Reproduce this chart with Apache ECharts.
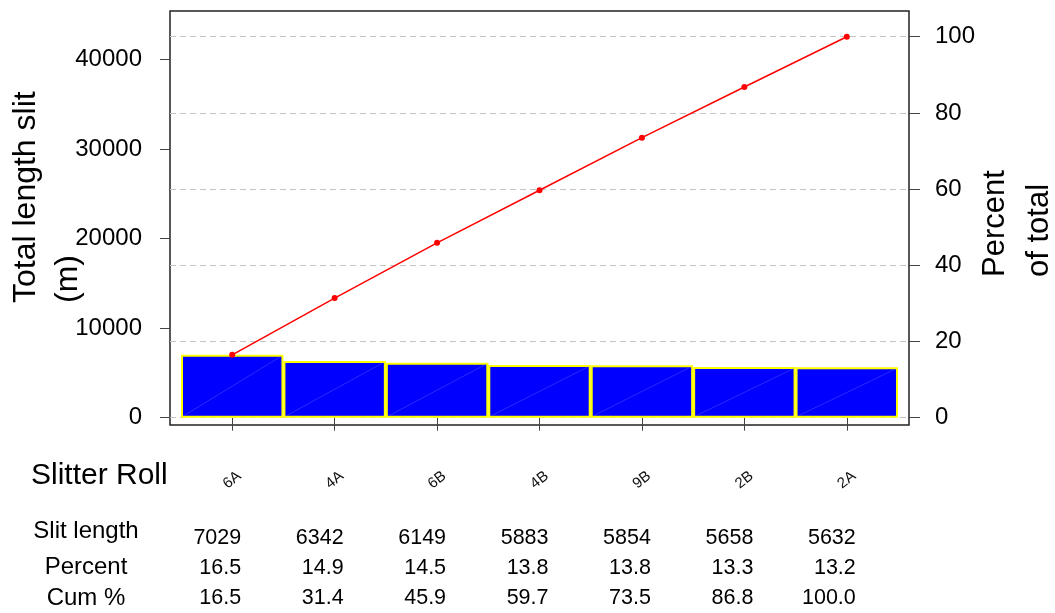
<!DOCTYPE html>
<html>
<head>
<meta charset="utf-8">
<script src="https://cdn.jsdelivr.net/npm/echarts@6/dist/echarts.min.js"></script>
<style>
html,body{margin:0;padding:0;background:#fff;}
#main{width:1055px;height:613px;}
</style>
</head>
<body>
<div id="main"></div>
<script>
// ---- data ----
var categories = ['6A', '4A', '6B', '4B', '9B', '2B', '2A'];
var slitLength = [7029, 6342, 6149, 5883, 5854, 5658, 5632];
var percent = [16.5, 14.9, 14.5, 13.8, 13.8, 13.3, 13.2];
var cumPercent = [16.5, 31.4, 45.9, 59.7, 73.5, 86.8, 100.0];
var leftTicks = [0, 10000, 20000, 30000, 40000];
var rightTicks = [0, 20, 40, 60, 80, 100];

var total = slitLength.reduce(function (a, b) { return a + b; }, 0);
var rightMin = -1.92, rightMax = 106.75;
var leftMin = total * rightMin / 100, leftMax = total * rightMax / 100;

var FONT = '"Liberation Sans", Arial, sans-serif';
var chart = echarts.init(document.getElementById('main'));

function tableAxis(arr, margin, fmt) {
  return {
    type: 'category', gridIndex: 2, position: 'bottom', data: categories,
    axisLine: {show: false}, axisTick: {show: false},
    axisLabel: {
      interval: 0, margin: margin, align: 'right', verticalAlign: 'middle',
      fontSize: 21.5, fontFamily: FONT, color: '#000',
      formatter: function (v, i) { return fmt(arr[i]); }
    }
  };
}

var option = {
  animation: false,
  backgroundColor: '#fff',
  textStyle: {fontFamily: FONT},
  grid: [
    {left: 170, right: 146, top: 11, bottom: 188, show: true, borderColor: '#222', borderWidth: 1.5, backgroundColor: 'transparent'},
    {left: 181, right: 157, top: 11, bottom: 188},
    {left: 190, right: 148, top: 11, bottom: 188}
  ],
  xAxis: [
    {type: 'value', gridIndex: 0, min: 0, max: 1, show: false},
    {
      type: 'category', gridIndex: 1, data: categories, position: 'bottom',
      axisLine: {show: false},
      axisTick: {show: true, alignWithLabel: true, length: 13, lineStyle: {color: '#444', width: 1}},
      axisLabel: {interval: 0, rotate: 38, align: 'center', verticalAlign: 'middle', margin: 55, fontSize: 15, fontFamily: FONT, color: '#111'}
    },
    tableAxis(slitLength, 113, function (v) { return String(v); }),
    tableAxis(percent, 143, function (v) { return v.toFixed(1); }),
    tableAxis(cumPercent, 173, function (v) { return v.toFixed(1); })
  ],
  yAxis: [
    {
      type: 'value', gridIndex: 0, position: 'left', min: leftMin, max: leftMax,
      axisLine: {show: false},
      axisTick: {show: true, length: 10, customValues: leftTicks, lineStyle: {color: '#444'}},
      axisLabel: {customValues: leftTicks, margin: 28, fontSize: 24, fontFamily: FONT, color: '#000', formatter: function (v) { return String(v); }},
      splitLine: {show: false}
    },
    {
      type: 'value', gridIndex: 0, position: 'right', min: rightMin, max: rightMax,
      axisLine: {show: false},
      axisTick: {show: true, length: 11, customValues: rightTicks, lineStyle: {color: '#444'}},
      axisLabel: {customValues: rightTicks, margin: 26, fontSize: 24, fontFamily: FONT, color: '#000', formatter: function (v) { return String(v); }},
      splitLine: {show: false}
    },
    {type: 'value', gridIndex: 1, min: leftMin, max: leftMax, show: false, splitLine: {show: false}},
    {type: 'value', gridIndex: 1, min: rightMin, max: rightMax, show: false, splitLine: {show: false}},
    {type: 'value', gridIndex: 2, min: 0, max: 1, show: false, splitLine: {show: false}}
  ],
  series: [
    {
      type: 'line', xAxisIndex: 0, yAxisIndex: 1, data: [], z: 0, silent: true,
      markLine: {
        silent: true, symbol: 'none', z: 1, animation: false,
        label: {show: false},
        lineStyle: {type: [6, 4], color: '#c4c4c4', width: 1},
        data: rightTicks.map(function (v) { return {yAxis: v}; })
      }
    },
    {
      type: 'bar', xAxisIndex: 1, yAxisIndex: 2, data: slitLength, z: 2,
      barWidth: '100%', barCategoryGap: '0%',
      itemStyle: {color: '#0000ff', borderColor: '#ffff00', borderWidth: 2}
    },
    {
      type: 'custom', xAxisIndex: 1, yAxisIndex: 2, z: 3, silent: true,
      data: slitLength.map(function (v, i) { return [i, v]; }),
      encode: {x: 0, y: 1},
      renderItem: function (params, api) {
        var p0 = api.coord([api.value(0), 0]);
        var p1 = api.coord([api.value(0), api.value(1)]);
        var w = api.size([1, 0])[0] / 2 - 3;
        return {
          type: 'line',
          shape: {x1: p0[0] - w, y1: p0[1] - 2, x2: p1[0] + w, y2: p1[1] + 2},
          style: {stroke: '#4646ff', lineWidth: 0.6}
        };
      }
    },
    {
      type: 'line', xAxisIndex: 1, yAxisIndex: 3, data: cumPercent, z: 4,
      symbol: 'circle', symbolSize: 6,
      lineStyle: {color: '#ff0000', width: 1.5},
      itemStyle: {color: '#ff0000'}
    }
  ],
  graphic: [
    {type: 'text', x: 47, y: 303, rotation: Math.PI / 2,
     style: {text: 'Total length slit\n(m)', font: '32px ' + FONT, align: 'left', verticalAlign: 'middle', lineHeight: 42, fill: '#000'}},
    {type: 'text', x: 1017, y: 277, rotation: Math.PI / 2,
     style: {text: 'Percent\nof total', font: '31px ' + FONT, align: 'left', verticalAlign: 'middle', lineHeight: 44, fill: '#000'}},
    {type: 'text', x: 31, y: 476,
     style: {text: 'Slitter Roll', font: '30px ' + FONT, align: 'left', verticalAlign: 'middle', fill: '#000'}},
    {type: 'text', x: 86, y: 531,
     style: {text: 'Slit length', font: '24px ' + FONT, align: 'center', verticalAlign: 'middle', fill: '#000'}},
    {type: 'text', x: 86, y: 567,
     style: {text: 'Percent', font: '24px ' + FONT, align: 'center', verticalAlign: 'middle', fill: '#000'}},
    {type: 'text', x: 86, y: 598,
     style: {text: 'Cum %', font: '24px ' + FONT, align: 'center', verticalAlign: 'middle', fill: '#000'}}
  ]
};
chart.setOption(option);
</script>
</body>
</html>
